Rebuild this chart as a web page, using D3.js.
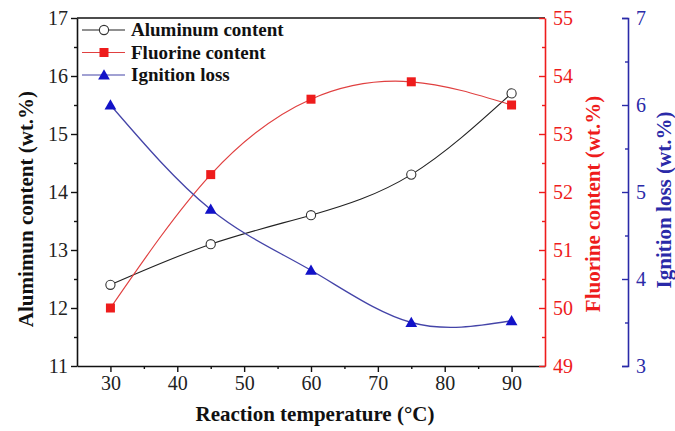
<!DOCTYPE html>
<html>
<head>
<meta charset="utf-8">
<script src="https://cdn.jsdelivr.net/npm/d3@7"></script>
<style>
  html, body { margin: 0; padding: 0; background: #fff; }
  svg { display: block; }
  svg text { font-family: "Liberation Serif", "Times New Roman", serif; }
</style>
</head>
<body>
<svg id="chart" width="675" height="431"></svg>
<script>
// Reaction temperature (°C)
const temperatures = [30, 45, 60, 75, 90];
// Aluminum content (wt.%), left axis
const aluminum = [12.4, 13.1, 13.6, 14.3, 15.7];
// Fluorine content (wt.%), red right axis
const fluorine = [50.0, 52.3, 53.6, 53.9, 53.5];
// Ignition loss (wt.%), blue right axis
const ignition = [6.0, 4.8, 4.1, 3.5, 3.52];

const xTicks = [30, 40, 50, 60, 70, 80, 90];
const xMinor = [35, 45, 55, 65, 75, 85];
const alTicks = [11, 12, 13, 14, 15, 16, 17];
const alMinor = [11.5, 12.5, 13.5, 14.5, 15.5, 16.5];
const fTicks = [49, 50, 51, 52, 53, 54, 55];
const fMinor = [49.5, 50.5, 51.5, 52.5, 53.5, 54.5];
const igTicks = [3, 4, 5, 6, 7];
const igMinor = [3.5, 4.5, 5.5, 6.5];

const legendLabels = ["Aluminum content", "Fluorine content", "Ignition loss"];

const BLACK = "#111";
const RED = "#ee1c1c";
const RED_LINE = "#e04040";
const BLUE = "#1212c8";
const BLUE_AXIS = "#2a2aa8";
const BLUE_LINE = "#4444a8";
const SERIF = "'Liberation Serif', 'Times New Roman', serif";

const svg = d3.select("#chart");
const plotLeft = 77, plotRight = 545, plotTop = 18, plotBottom = 366;
const blueAxisX = 628;

const x = d3.scaleLinear().domain([25, 95]).range([plotLeft, plotRight]);
const yAl = d3.scaleLinear().domain([11, 17]).range([plotBottom, plotTop]);
const yF = d3.scaleLinear().domain([49, 55]).range([plotBottom, plotTop]);
const yIg = d3.scaleLinear().domain([3, 7]).range([plotBottom, plotTop]);

function styleAxis(g, color, fontSize) {
  g.attr("font-family", null);
  g.selectAll("path").attr("stroke", color).attr("stroke-width", 1.6);
  g.selectAll("line").attr("stroke", color).attr("stroke-width", 1.4);
  g.selectAll("text").attr("fill", color)
    .style("font-size", fontSize + "px").style("font-family", SERIF);
}

// Top frame line
svg.append("line")
  .attr("x1", plotLeft).attr("x2", plotRight).attr("y1", plotTop).attr("y2", plotTop)
  .attr("stroke", BLACK).attr("stroke-width", 1.6);

// Bottom axis
const gx = svg.append("g").attr("transform", `translate(0,${plotBottom})`);
gx.call(d3.axisBottom(x).tickValues(xTicks).tickSizeInner(6).tickSizeOuter(0).tickPadding(4).tickFormat(d3.format("d")));
styleAxis(gx, BLACK, 20);
gx.selectAll("text").attr("fill", "#222");
const gxm = svg.append("g").attr("transform", `translate(0,${plotBottom})`);
gxm.call(d3.axisBottom(x).tickValues(xMinor).tickSize(3).tickFormat(""));
gxm.select("path").remove();
gxm.selectAll("line").attr("stroke", BLACK).attr("stroke-width", 1.4);

// Left axis
const gl = svg.append("g").attr("transform", `translate(${plotLeft},0)`);
gl.call(d3.axisLeft(yAl).tickValues(alTicks).tickSizeInner(6).tickSizeOuter(0).tickPadding(3).tickFormat(d3.format("d")));
styleAxis(gl, BLACK, 20);
gl.selectAll("text").attr("fill", "#222");
const glm = svg.append("g").attr("transform", `translate(${plotLeft},0)`);
glm.call(d3.axisLeft(yAl).tickValues(alMinor).tickSize(3).tickFormat(""));
glm.select("path").remove();
glm.selectAll("line").attr("stroke", BLACK).attr("stroke-width", 1.4);

// Red (fluorine) axis, ticks pointing inward
const gr = svg.append("g").attr("transform", `translate(${plotRight},0)`);
gr.call(d3.axisRight(yF).tickValues(fTicks).tickSizeInner(-6).tickSizeOuter(0).tickPadding(8).tickFormat(d3.format("d")));
styleAxis(gr, RED, 20);
const grm = svg.append("g").attr("transform", `translate(${plotRight},0)`);
grm.call(d3.axisRight(yF).tickValues(fMinor).tickSize(-3).tickFormat(""));
grm.select("path").remove();
grm.selectAll("line").attr("stroke", RED).attr("stroke-width", 1.4);

// Blue (ignition loss) axis, ticks pointing inward
const gb = svg.append("g").attr("transform", `translate(${blueAxisX},0)`);
gb.call(d3.axisRight(yIg).tickValues(igTicks).tickSizeInner(-6).tickSizeOuter(-6).tickPadding(8).tickFormat(d3.format("d")));
styleAxis(gb, BLUE_AXIS, 20);
const gbm = svg.append("g").attr("transform", `translate(${blueAxisX},0)`);
gbm.call(d3.axisRight(yIg).tickValues(igMinor).tickSize(-3).tickFormat(""));
gbm.select("path").remove();
gbm.selectAll("line").attr("stroke", BLUE_AXIS).attr("stroke-width", 1.4);

// Axis titles
function title(txt, color) {
  return svg.append("text")
    .attr("text-anchor", "middle").attr("font-weight", "bold")
    .style("font-size", "21px").style("font-family", SERIF)
    .attr("fill", color).text(txt);
}
title("Reaction temperature (°C)", BLACK)
  .attr("x", (plotLeft + plotRight) / 2 + 4).attr("y", 421);
title("Alumimun content (wt.%)", BLACK)
  .attr("transform", `translate(33,209) rotate(-90)`);
title("Fluorine content (wt.%)", RED)
  .attr("transform", `translate(600,204) rotate(-90)`);
title("Ignition loss (wt.%)", BLUE_AXIS)
  .attr("transform", `translate(671,200) rotate(-90)`);

// Smooth curves through the measured points
function drawSeries(values, yScale, lineColor, lineWidth) {
  const pts = temperatures.map((t, i) => [x(t), yScale(values[i])]);
  svg.append("path")
    .attr("d", d3.line().curve(d3.curveNatural)(pts))
    .attr("fill", "none").attr("stroke", lineColor).attr("stroke-width", lineWidth);
  return pts;
}

const alPts = drawSeries(aluminum, yAl, "#222", 1.1);
const fPts = drawSeries(fluorine, yF, RED_LINE, 1.2);
const igPts = drawSeries(ignition, yIg, BLUE_LINE, 1.3);

const tri = d3.symbol().type(d3.symbolTriangle).size(60);

function circleMarker(g, cx, cy) {
  g.append("circle").attr("cx", cx).attr("cy", cy).attr("r", 4.6)
    .attr("fill", "#fff").attr("stroke", "#333").attr("stroke-width", 1.1);
}
function squareMarker(g, cx, cy) {
  g.append("rect").attr("x", cx - 4.5).attr("y", cy - 4.5).attr("width", 9).attr("height", 9)
    .attr("fill", RED);
}
function triMarker(g, cx, cy) {
  g.append("path").attr("d", tri()).attr("transform", `translate(${cx},${cy + 1})`)
    .attr("fill", BLUE);
}

const marks = svg.append("g");
igPts.forEach(p => triMarker(marks, p[0], p[1]));
fPts.forEach(p => squareMarker(marks, p[0], p[1]));
alPts.forEach(p => circleMarker(marks, p[0], p[1]));

// Legend
const legend = svg.append("g");
const legendRows = [
  { label: legendLabels[0], color: "#222", marker: circleMarker },
  { label: legendLabels[1], color: RED_LINE, marker: squareMarker },
  { label: legendLabels[2], color: BLUE_LINE, marker: triMarker }
];
legendRows.forEach((r, i) => {
  const cy = 30 + i * 22.5;
  legend.append("line").attr("x1", 82).attr("x2", 125).attr("y1", cy).attr("y2", cy)
    .attr("stroke", r.color).attr("stroke-width", 1.2);
  r.marker(legend, 104, cy);
  legend.append("text").attr("x", 131).attr("y", cy + 6)
    .attr("font-weight", "bold").style("font-size", "19px").style("font-family", SERIF)
    .attr("fill", BLACK)
    .text(r.label);
});
</script>
</body>
</html>
